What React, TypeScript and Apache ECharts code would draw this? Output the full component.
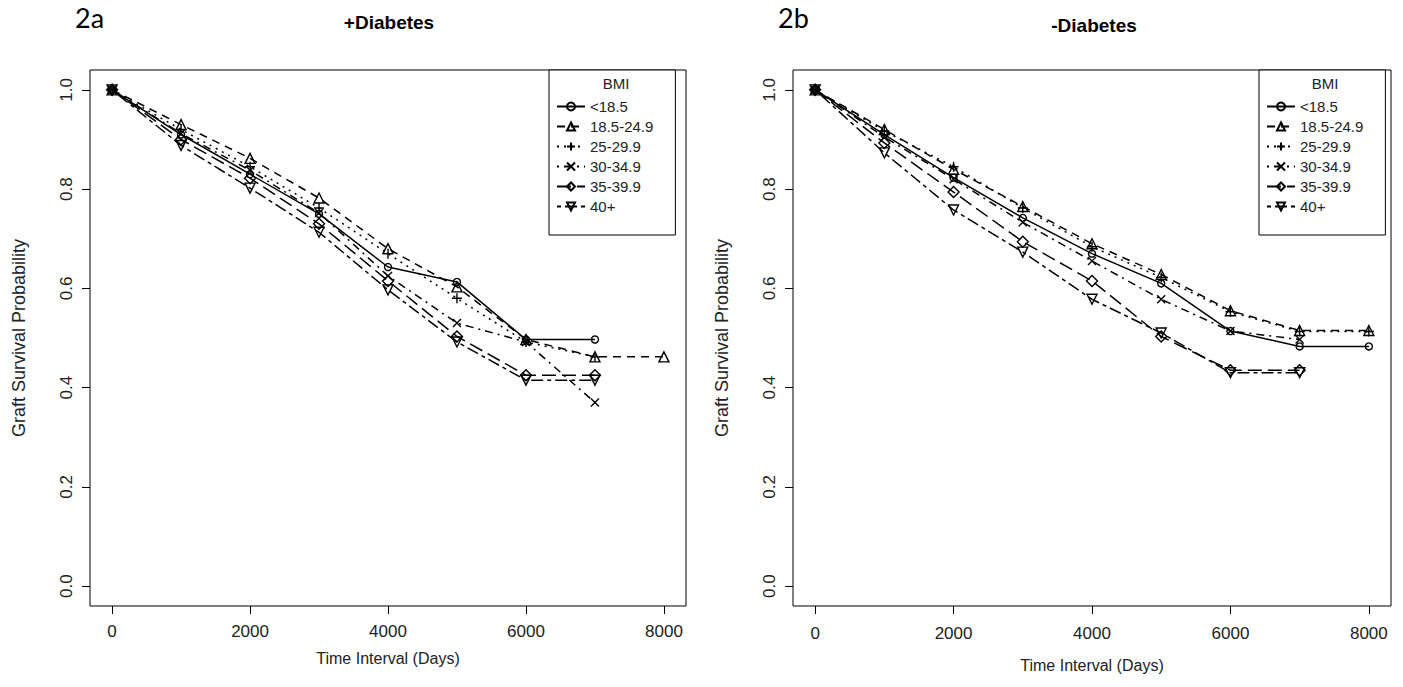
import React, { useEffect, useRef } from "react";
import * as echarts from "echarts";

// ---- data ----
const days = [0, 1000, 2000, 3000, 4000, 5000, 6000, 7000, 8000];
const bmiGroups = ["<18.5", "18.5-24.9", "25-29.9", "30-34.9", "35-39.9", "40+"];
const xTicks = [0, 2000, 4000, 6000, 8000];
const yTicks = [0, 0.2, 0.4, 0.6, 0.8, 1.0];

// Panel 2a: +Diabetes
const posUnder185 = [1.0, 0.91, 0.83, 0.75, 0.643, 0.613, 0.497, 0.497];
const pos185to249 = [1.0, 0.93, 0.862, 0.782, 0.68, 0.603, 0.497, 0.462, 0.462];
const pos25to299 = [1.0, 0.92, 0.845, 0.762, 0.67, 0.58, 0.492, 0.462];
const pos30to349 = [1.0, 0.912, 0.838, 0.752, 0.625, 0.53, 0.492, 0.37];
const pos35to399 = [1.0, 0.9, 0.822, 0.73, 0.615, 0.503, 0.425, 0.425];
const pos40plus = [1.0, 0.888, 0.802, 0.713, 0.597, 0.492, 0.415, 0.415];

// Panel 2b: -Diabetes
const negUnder185 = [1.0, 0.91, 0.823, 0.742, 0.67, 0.61, 0.514, 0.483, 0.483];
const neg185to249 = [1.0, 0.92, 0.84, 0.765, 0.69, 0.628, 0.555, 0.515, 0.515];
const neg25to299 = [1.0, 0.917, 0.845, 0.762, 0.684, 0.622, 0.553, 0.513, 0.513];
const neg30to349 = [1.0, 0.905, 0.82, 0.733, 0.655, 0.578, 0.514, 0.497];
const neg35to399 = [1.0, 0.893, 0.794, 0.694, 0.615, 0.503, 0.435, 0.435];
const neg40plus = [1.0, 0.873, 0.758, 0.673, 0.578, 0.51, 0.43, 0.43];

const posSeries = [posUnder185, pos185to249, pos25to299, pos30to349, pos35to399, pos40plus];
const negSeries = [negUnder185, neg185to249, neg25to299, neg30to349, neg35to399, neg40plus];

// ---- styles ----
const symbols = [
  "circle",
  "triangle",
  "path://M5,0L5,10M0,5L10,5",
  "path://M0,0L10,10M10,0L0,10",
  "diamond",
  "path://M0,0L10,0L5,8.66Z",
];
const symbolSizes = [7, 10, 10, 8, 11, 10];
const dashes: any[] = ["solid", [8, 6], [2, 5], [2, 5, 8, 5], [14, 6], [4, 4, 12, 4]];

const FONT = "Liberation Sans, Arial, sans-serif";
const TXT = "#222";

function buildSeries(panel: number, values: number[][]) {
  return values.map((vals, k) => ({
    type: "line",
    name: bmiGroups[k],
    xAxisIndex: panel,
    yAxisIndex: panel,
    data: vals.map((v, i) => [days[i], v]),
    symbol: symbols[k],
    symbolSize: symbolSizes[k],
    showAllSymbol: true,
    lineStyle: { color: "#000", width: 1.5, type: dashes[k] },
    itemStyle: { color: "rgba(0,0,0,0)", borderColor: "#000", borderWidth: 1.4 },
    emphasis: { disabled: true },
    silent: true,
  }));
}

function xAxisFor(gridIndex: number, labelMargin: number, nameGap: number) {
  return {
    gridIndex,
    type: "value",
    min: -320,
    max: 8320,
    axisLine: { show: false, onZero: false },
    splitLine: { show: false },
    axisTick: { show: true, inside: false, length: 8, customValues: xTicks, lineStyle: { color: "#000", width: 1 } },
    axisLabel: {
      customValues: xTicks,
      margin: labelMargin,
      fontSize: 17,
      color: TXT,
      fontFamily: FONT,
      formatter: (v: number) => String(v),
    },
    name: "Time Interval (Days)",
    nameLocation: "middle",
    nameGap,
    nameMoveOverlap: false,
    nameTextStyle: { fontSize: 16, color: TXT, fontFamily: FONT },
  };
}

function yAxisFor(gridIndex: number) {
  return {
    gridIndex,
    type: "value",
    min: -0.04,
    max: 1.04,
    axisLine: { show: false, onZero: false },
    splitLine: { show: false },
    axisTick: { show: true, inside: false, length: 8, customValues: yTicks, lineStyle: { color: "#000", width: 1 } },
    axisLabel: {
      customValues: yTicks,
      rotate: 90,
      margin: 15,
      fontSize: 17,
      color: TXT,
      fontFamily: FONT,
      formatter: (v: number) => v.toFixed(1),
    },
    name: "Graft Survival Probability",
    nameLocation: "middle",
    nameRotate: 90,
    nameGap: 62,
    nameMoveOverlap: false,
    nameTextStyle: { fontSize: 18, color: TXT, fontFamily: FONT },
  };
}

function legendFor(left: number) {
  return {
    data: bmiGroups,
    left,
    top: 70,
    orient: "vertical",
    selectedMode: false,
    backgroundColor: "#fff",
    borderColor: "#000",
    borderWidth: 1,
    borderRadius: 0,
    padding: [29, 22, 21, 7],
    itemWidth: 28,
    itemHeight: 10,
    itemGap: 5,
    textStyle: { fontSize: 15, color: TXT, fontFamily: FONT, lineHeight: 15 },
  };
}

export default function App() {
  const ref = useRef<HTMLDivElement>(null);
  useEffect(() => {
    if (!ref.current) return;
    const chart = echarts.init(ref.current, null, { renderer: "svg" });
    chart.setOption({
      animation: false,
      backgroundColor: "#fff",
      grid: [
        { left: 90, top: 70, width: 596, height: 536, show: true, borderColor: "#000", borderWidth: 1, backgroundColor: "transparent" },
        { left: 793, top: 70, width: 598, height: 536, show: true, borderColor: "#000", borderWidth: 1, backgroundColor: "transparent" },
      ],
      xAxis: [xAxisFor(0, 17, 44), xAxisFor(1, 19, 51)],
      yAxis: [yAxisFor(0), yAxisFor(1)],
      legend: [legendFor(549), legendFor(1259)],
      series: [...buildSeries(0, posSeries), ...buildSeries(1, negSeries)],
      graphic: [
        { type: "text", left: 75, top: 4, z: 100, style: { text: "2a", fontSize: 27, fontFamily: "Lato, sans-serif", fill: "#000" } },
        { type: "text", left: 778, top: 4, z: 100, style: { text: "2b", fontSize: 27, fontFamily: "Lato, sans-serif", fill: "#000" } },
        { type: "text", x: 389, y: 22, z: 100, style: { text: "+Diabetes", fontSize: 19, fontWeight: "bold", fontFamily: FONT, fill: "#000", align: "center", verticalAlign: "middle" } },
        { type: "text", x: 1094, y: 25, z: 100, style: { text: "-Diabetes", fontSize: 19, fontWeight: "bold", fontFamily: FONT, fill: "#000", align: "center", verticalAlign: "middle" } },
        { type: "text", x: 616, y: 83, z: 100, style: { text: "BMI", fontSize: 15, fontFamily: FONT, fill: TXT, align: "center", verticalAlign: "middle" } },
        { type: "text", x: 1325, y: 83, z: 100, style: { text: "BMI", fontSize: 15, fontFamily: FONT, fill: TXT, align: "center", verticalAlign: "middle" } },
      ],
    });
    return () => chart.dispose();
  }, []);
  return <div ref={ref} style={{ position: "absolute", left: 0, top: 0, width: 1403, height: 687 }} />;
}
